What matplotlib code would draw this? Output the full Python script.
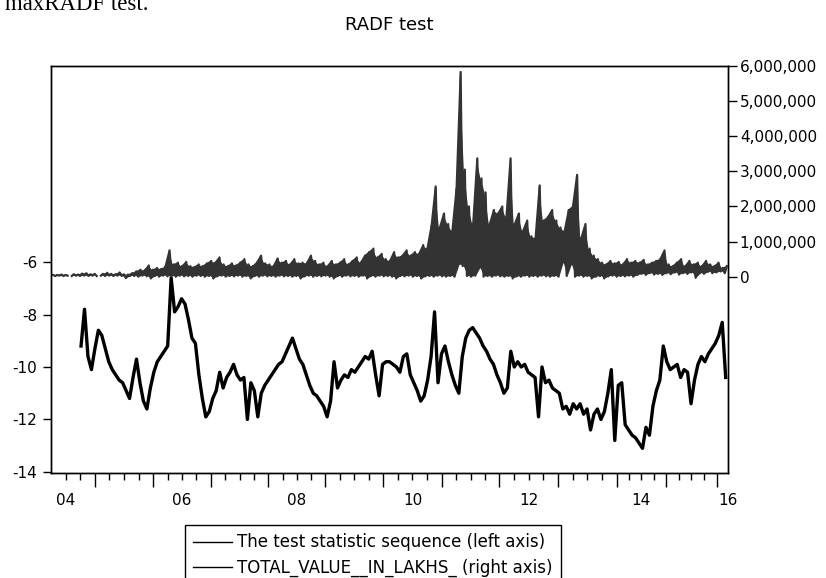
import numpy as np
import matplotlib.pyplot as plt
from matplotlib.ticker import FuncFormatter
import matplotlib.transforms as mtransforms

# trading days shown per calendar year (2004 starts in April)
years = [2004, 2005, 2006, 2007, 2008, 2009, 2010, 2011, 2012, 2013, 2014, 2015, 2016]
obs_per_year = [190, 252, 250, 249, 246, 250, 255, 248, 254, 255, 212, 221, 48]
label_years = [2004, 2006, 2008, 2010, 2012, 2014, 2016]
year_labels = ['04', '06', '08', '10', '12', '14', '16']

# RADF test statistic, sampled every 15 trading days from day 130 (left axis)
radf_stat = [
    -9.2, -7.8, -9.6, -10.1, -9.3, -8.6, -8.8, -9.3, -9.8, -10.1,
    -10.3, -10.5, -10.6, -10.9, -11.2, -10.4, -9.7, -10.6, -11.3, -11.6,
    -10.8, -10.2, -9.8, -9.6, -9.4, -9.2, -6.6, -7.9, -7.7, -7.4,
    -7.6, -8.2, -8.9, -9.1, -10.3, -11.2, -11.9, -11.7, -11.2, -10.9,
    -10.2, -10.8, -10.4, -10.2, -9.9, -10.3, -10.5, -10.4, -12.0, -10.6,
    -10.9, -11.9, -11.0, -10.7, -10.5, -10.3, -10.1, -9.9, -9.8, -9.5,
    -9.2, -8.9, -9.3, -9.7, -9.9, -10.3, -10.7, -11.0, -11.1, -11.3,
    -11.5, -11.9, -11.3, -9.8, -10.8, -10.5, -10.3, -10.4, -10.1, -10.2,
    -10.0, -9.8, -9.6, -9.7, -9.4, -10.3, -11.1, -9.9, -9.8, -9.8,
    -9.9, -10.0, -10.2, -9.6, -9.5, -10.3, -10.6, -10.9, -11.3, -11.1,
    -10.5, -9.6, -7.9, -10.6, -9.5, -9.2, -9.8, -10.3, -10.7, -11.0,
    -9.6, -8.9, -8.6, -8.5, -8.7, -8.9, -9.2, -9.4, -9.7, -9.9,
    -10.3, -10.6, -11.0, -10.8, -9.4, -10.0, -9.8, -10.0, -9.9, -10.2,
    -10.3, -10.4, -11.9, -10.0, -10.6, -10.5, -10.8, -10.9, -11.0, -11.6,
    -11.5, -11.8, -11.4, -11.6, -11.4, -11.8, -11.6, -12.4, -11.8, -11.6,
    -12.0, -11.7, -11.0, -10.1, -12.8, -10.7, -10.6, -12.2, -12.4, -12.6,
    -12.7, -12.9, -13.1, -12.3, -12.6, -11.5, -10.9, -10.5, -9.2, -9.8,
    -10.1, -10.0, -9.9, -10.4, -10.1, -10.2, -11.4, -10.5, -9.9, -9.6,
    -9.8, -9.5, -9.3, -9.1, -8.8, -8.3, -10.4,
]

# TOTAL_VALUE (millions of lakhs), low/high pairs every 18 trading days (right axis)
value_lo = [
    np.nan, 0.02, 0.03, 0.02, 0.03, 0.02, 0.03, 0.02, 0.03, 0.02,
    0.03, 0.02, 0.03, 0.02, 0.03, 0.02, 0.03, 0.02, -0.04, 0.02,
    0.02, 0.0, 0.03, 0.01, -0.05, 0.02, 0.0, 0.03, 0.01, 0.02,
    0.0, 0.03, 0.01, 0.02, 0.0, 0.03, 0.02, 0.0, 0.02, -0.05,
    0.01, 0.03, 0.0, 0.02, 0.01, 0.03, 0.0, 0.02, -0.05, 0.02,
    0.0, 0.03, 0.01, 0.02, 0.0, 0.03, 0.01, 0.02, 0.0, 0.02,
    -0.05, 0.01, 0.03, 0.0, 0.02, 0.01, 0.03, 0.0, -0.05, 0.02,
    0.0, 0.03, 0.01, 0.02, 0.0, 0.03, -0.05, 0.02, 0.0, 0.03,
    0.01, 0.02, 0.0, -0.05, 0.02, 0.01, 0.03, 0.0, 0.02, -0.05,
    0.01, 0.02, 0.0, 0.03, 0.01, 0.0, 0.02, 0.0, 0.35, 0.3,
    0.02, 0.0, 0.03, 0.25, 0.0, 0.02, 0.0, 0.03, 0.01, 0.0,
    0.02, -0.05, 0.01, 0.0, 0.03, 0.0, 0.02, 0.0, 0.03, 0.01,
    0.0, 0.02, 0.0, 0.4, 0.02, 0.35, 0.0, 0.03, 0.0, 0.02,
    -0.05, 0.0, 0.02, -0.05, 0.01, 0.03, 0.0, 0.02, 0.01, 0.03,
    0.0, 0.05, 0.08, 0.05, 0.1, 0.06, 0.08, 0.05, 0.1, 0.07,
    0.12, 0.06, 0.1, 0.08, 0.12, -0.03, 0.1, 0.08, 0.14, 0.1,
    0.12, 0.15, 0.1,
]
value_hi = [
    0.05, 0.05, 0.06, 0.05, np.nan, 0.07, 0.06, 0.09, 0.10, 0.07,
    0.08, np.nan, 0.08, 0.11, 0.08, 0.07, 0.12, 0.07, 0.06, 0.10,
    0.15, 0.20, 0.18, 0.32, 0.20, 0.25, 0.22, 0.28, 0.75, 0.35,
    0.40, 0.30, 0.42, 0.30, 0.28, 0.35, 0.30, 0.38, 0.45, 0.40,
    0.55, 0.35, 0.30, 0.38, 0.32, 0.40, 0.50, 0.35, 0.30, 0.40,
    0.60, 0.38, 0.35, 0.30, 0.52, 0.40, 0.45, 0.35, 0.50, 0.38,
    0.40, 0.38, 0.60, 0.45, 0.35, 0.40, 0.30, 0.45, 0.35, 0.40,
    0.50, 0.35, 0.45, 0.55, 0.40, 0.60, 0.70, 0.80, 0.55, 0.65,
    0.50, 0.45, 0.70, 0.55, 0.60, 0.75, 0.60, 0.70, 0.65, 0.90,
    0.80, 1.45, 2.57, 1.40, 1.80, 1.50, 1.30, 2.50, 5.83, 3.05,
    2.00, 1.50, 3.37, 2.80, 2.40, 1.50, 1.90, 1.80, 2.00, 1.70,
    3.37, 1.50, 1.80, 1.30, 1.60, 1.15, 1.10, 2.60, 1.60, 1.70,
    1.90, 1.60, 1.40, 1.30, 1.90, 2.00, 2.90, 1.10, 1.50, 0.80,
    0.60, 0.50, 0.40, 0.35, 0.45, 0.38, 0.42, 0.35, 0.50, 0.40,
    0.45, 0.40, 0.48, 0.35, 0.40, 0.45, 0.50, 0.75, 0.35, 0.30,
    0.40, 0.50, 0.30, 0.45, 0.35, 0.40, 0.30, 0.45, 0.35, 0.30,
    0.40, 0.25, 0.30,
]

bounds = np.concatenate([[0], np.cumsum(obs_per_year)])
x_stat = 130 + 15 * np.arange(len(radf_stat))
total_value = np.column_stack([value_lo, value_hi]).ravel() * 1e6
x_val = 9 * np.arange(len(total_value))
x_pair = 18 * np.arange(len(value_hi)) + 4.5

plt.rcParams['font.family'] = 'DejaVu Sans'
plt.rcParams['axes.unicode_minus'] = False
fig = plt.figure(figsize=(8.26, 5.78), dpi=100)
ax = fig.add_axes([51 / 826, 1 - 473 / 578, 677 / 826, 407 / 578])
ax2 = ax.twinx()

l1, = ax.plot(x_stat, radf_stat, color='black', lw=2.4)
l2, = ax2.plot(x_val, total_value, color='#333333', lw=1.6)
# daily swings are so dense that the range between lows and highs reads as solid
ax2.fill_between(x_pair, np.array(value_lo) * 1e6, np.array(value_hi) * 1e6,
                 color='#333333', lw=0)

ax.set_xlim(bounds[0], bounds[-1])
ax.set_ylim(-14.04, 1.47)
ax2.set_ylim(-5.59e6, 6.0e6)

ax.set_yticks([-14, -12, -10, -8, -6])
ax.tick_params(axis='y', direction='out', length=6, width=1, pad=4, labelsize=11)
ax2.set_yticks(np.arange(0, 7e6, 1e6))
ax2.yaxis.set_major_formatter(FuncFormatter(lambda v, p: f'{int(v):,}'))
ax2.tick_params(axis='y', direction='out', length=6.5, width=1, pad=2, labelsize=11)

# year boundaries as major ticks, quarters as minor ticks
ax.set_xticks(bounds[1:-1])
ax.set_xticklabels([])
quarters = [bounds[0] + obs_per_year[0] * q / 3 for q in (1, 2)]
for k in range(1, len(years) - 1):
    quarters += [bounds[k] + obs_per_year[k] * q / 4 for q in (1, 2, 3)]
ax.set_xticks(quarters, minor=True)
ax.tick_params(axis='x', which='major', direction='out', length=10, width=1)
ax.tick_params(axis='x', which='minor', direction='out', length=5, width=1)

trans = mtransforms.blended_transform_factory(ax.transData, ax.transAxes)
for yr, lab in zip(label_years, year_labels):
    k = years.index(yr)
    if k == 0:
        xm = bounds[1] - obs_per_year[1] / 2
    elif k == len(years) - 1:
        xm = bounds[-1]
    else:
        xm = bounds[k] + obs_per_year[k] / 2
    ax.text(xm, -0.068, lab, transform=trans, ha='center', va='center', fontsize=11)

for a in (ax, ax2):
    for s in a.spines.values():
        s.set_linewidth(1.0)
        s.set_color('black')

fig.text(389.5 / 826, 1 - 25 / 578, 'RADF test', ha='center', va='center', fontsize=13)
fig.text(5 / 826, 1 - 10 / 578, 'maxRADF test.', family='Liberation Serif',
         fontsize=16.4, va='baseline', ha='left')

leg = fig.legend([l1, l2], ['The test statistic sequence (left axis)',
                            'TOTAL_VALUE__IN_LAKHS_ (right axis)'],
                 loc='upper left', bbox_to_anchor=(185 / 826, 1 - 525 / 578),
                 bbox_transform=fig.transFigure, borderaxespad=0, fontsize=12,
                 fancybox=False, frameon=True, edgecolor='black', framealpha=1,
                 handlelength=2.3, handletextpad=0.3, borderpad=0.5, labelspacing=0.45)
leg.get_frame().set_linewidth(1.0)
for h in leg.get_lines():
    h.set_linewidth(1.0)
    h.set_color('black')

fig.savefig('out.png', dpi=100)
